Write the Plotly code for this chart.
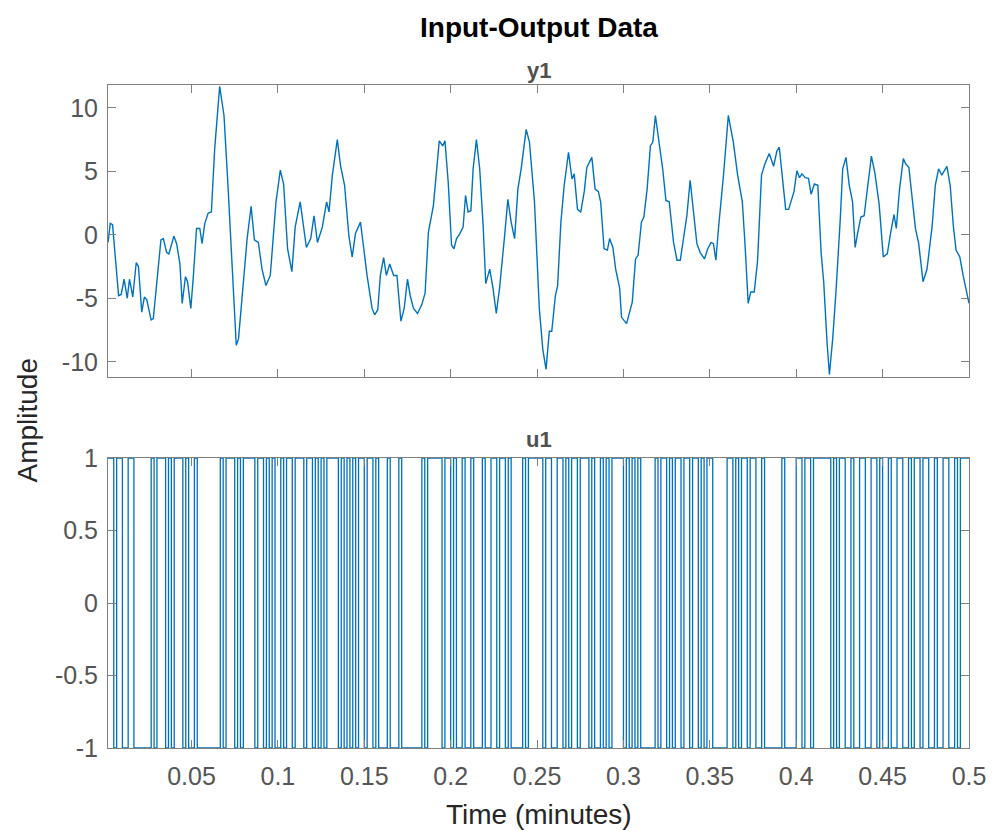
import plotly.graph_objects as go

# ---------------- data ----------------
# output y1 (time in minutes, amplitude)
y1_time = [0.0017, 0.0030, 0.0043, 0.0055, 0.0078, 0.0093, 0.0110, 0.0128, 0.0141, 0.0151,
           0.0160, 0.0180, 0.0193, 0.0212, 0.0227, 0.0241, 0.0266, 0.0279, 0.0298, 0.0323,
           0.0337, 0.0356, 0.0369, 0.0398, 0.0414, 0.0433, 0.0446, 0.0465, 0.0477, 0.0496,
           0.0511, 0.0529, 0.0548, 0.0561, 0.0577, 0.0596, 0.0615, 0.0634, 0.0663, 0.0688,
           0.0711, 0.0734, 0.0759, 0.0772, 0.0797, 0.0822, 0.0845, 0.0864, 0.0887, 0.0908,
           0.0931, 0.0956, 0.0989, 0.1014, 0.1033, 0.1056, 0.1081, 0.1100, 0.1129, 0.1142,
           0.1165, 0.1190, 0.1209,
           0.1229, 0.1257, 0.1282, 0.1296, 0.1315, 0.1344, 0.1363, 0.1386, 0.1411, 0.1430,
           0.1449, 0.1478, 0.1497, 0.1516, 0.1545, 0.1560, 0.1578, 0.1593, 0.1612, 0.1628,
           0.1647, 0.1670, 0.1689, 0.1712, 0.1731, 0.1750, 0.1766, 0.1785, 0.1808, 0.1833,
           0.1852, 0.1871, 0.1900, 0.1919, 0.1934, 0.1954, 0.1967, 0.1986, 0.2005, 0.2019,
           0.2034, 0.2053, 0.2072, 0.2086, 0.2101, 0.2117, 0.2130, 0.2149, 0.2168, 0.2188,
           0.2203, 0.2226, 0.2245, 0.2264, 0.2283, 0.2312, 0.2331, 0.2350, 0.2370, 0.2389,
           0.2408, 0.2437, 0.2456, 0.2485, 0.2513,
           0.2533, 0.2552, 0.2571, 0.2585, 0.2606, 0.2619, 0.2638, 0.2657, 0.2682, 0.2702,
           0.2715, 0.2734, 0.2753, 0.2773, 0.2788, 0.2817, 0.2836, 0.2855, 0.2868, 0.2888,
           0.2907, 0.2920, 0.2939, 0.2955, 0.2978, 0.2989, 0.3018, 0.3035, 0.3051, 0.3070,
           0.3085, 0.3104, 0.3118, 0.3137, 0.3156, 0.3170, 0.3185, 0.3200, 0.3227, 0.3246,
           0.3265, 0.3290, 0.3310, 0.3329, 0.3348, 0.3367, 0.3386, 0.3405, 0.3425, 0.3444,
           0.3469, 0.3488, 0.3507, 0.3521, 0.3535, 0.3550, 0.3579, 0.3607, 0.3636, 0.3661,
           0.3688, 0.3703, 0.3722, 0.3737, 0.3757,
           0.3776, 0.3799, 0.3819, 0.3844, 0.3869, 0.3888, 0.3902, 0.3921, 0.3939, 0.3956,
           0.3975, 0.3987, 0.4004, 0.4019, 0.4033, 0.4052, 0.4071, 0.4086, 0.4105, 0.4125,
           0.4144, 0.4159, 0.4178, 0.4192, 0.4211, 0.4230, 0.4255, 0.4269, 0.4288, 0.4307,
           0.4326, 0.4341, 0.4355, 0.4374, 0.4393, 0.4413, 0.4435, 0.4455, 0.4480, 0.4504,
           0.4527, 0.4547, 0.4566, 0.4579, 0.4598, 0.4620, 0.4633, 0.4652, 0.4671, 0.4690,
           0.4709, 0.4734, 0.4757, 0.4786, 0.4805, 0.4824, 0.4843, 0.4872, 0.4891, 0.4910,
           0.4925, 0.4947, 0.4966, 0.5000]

y1_values = [-0.6, 0.9, 0.8, -1.1, -4.8, -4.7, -3.5, -5.0, -3.5, -4.2,
             -4.9, -2.2, -2.5, -6.1, -4.9, -5.1, -6.7, -6.6, -4.0, -0.4,
             -0.3, -1.4, -1.5, -0.1, -0.7, -2.3, -5.4, -3.3, -3.7, -5.8,
             -3.2, 0.5, 0.5, -0.7, 0.9, 1.7, 1.8, 6.75, 11.7, 9.4,
             3.9, -2.1, -8.7, -8.2, -4.0, -0.3, 2.25, -0.4, -0.6, -2.7,
             -4.0, -3.2, 2.6, 5.1, 4.0, -1.1, -2.9, 0.6, 2.6, 1.3,
             -1.0, -0.3, 1.5,
             -0.6, 0.6, 2.6, 1.8, 4.7, 7.5, 5.4, 3.9, -0.1, -1.75,
             0.1, 1.0, -1.1, -3.2, -5.8, -6.3, -5.9, -3.2, -1.8, -3.2,
             -2.3, -3.2, -3.2, -6.8, -5.8, -3.5, -4.8, -5.8, -6.2, -5.5,
             -4.6, 0.2, 2.3, 5.2, 7.4, 7.0, 7.4, 4.1, -0.8, -1.1,
             -0.3, 0.1, 0.6, 3.1, 1.8, 1.9, 5.2, 7.5, 5.2, 0.7,
             -3.85, -2.7, -4.2, -6.2, -4.2, -0.1, 2.8, 1.0, -0.3, 3.6,
             5.2, 8.3, 7.3, 2.6, -5.8,
             -9.0, -10.6, -7.6, -7.6, -4.8, -4.0, 1.0, 3.9, 6.5, 4.4,
             4.8, 2.0, 1.8, 3.4, 5.3, 6.1, 3.6, 3.4, 2.6, -1.1,
             -1.2, -0.3, -1.0, -2.7, -4.2, -6.5, -7.0, -6.1, -5.3, -1.9,
             -1.6, 1.0, 1.4, 3.6, 7.0, 7.3, 9.4, 7.9, 5.2, 2.7,
             2.6, -0.6, -2.0, -2.0, -0.3, 1.5, 4.3, 1.8, -0.7, -1.4,
             -1.9, -1.1, -0.6, -0.7, -2.0, 0.5, 4.7, 9.4, 7.3, 4.7,
             2.6, -0.6, -5.4, -4.5, -4.5,
             -2.1, 4.7, 5.6, 6.4, 5.4, 6.6, 6.9, 4.1, 2.0, 2.0,
             3.0, 3.4, 5.05, 4.5, 4.8, 4.5, 4.45, 3.2, 4.0, 3.9,
             -1.4, -3.7, -8.4, -11.0, -8.2, -4.5, 1.25, 5.2, 6.1, 3.9,
             2.6, -1.0, 0.1, 1.4, 1.5, 3.6, 6.2, 4.9, 2.4, -1.75,
             -1.5, 0.2, 1.6, 0.5, 3.6, 6.0, 5.6, 5.3, 2.6, 0.5,
             -0.7, -3.7, -2.7, 0.6, 3.9, 5.2, 4.7, 5.4, 3.9, 0.6,
             -1.2, -1.75, -3.2, -5.4]

# input u1: PRBS, sample time 0.1 s = 1/600 min; samples at which the level changes
sample_time_min = 1.0 / 600.0
n_samples = 300
u1_switch_samples = [3, 4, 6, 8, 10, 16, 17, 18, 21, 22,
                     23, 24, 27, 28, 29, 31, 32, 40, 41, 42,
                     45, 46, 47, 48, 52, 53, 55, 56, 57, 58,
                     59, 61, 62, 63, 65, 66, 69, 70, 72, 73,
                     74, 75, 76, 77, 81, 82, 83, 84, 85, 86,
                     87, 88, 90, 91, 93, 94, 95, 98, 99, 102,
                     103, 110, 111, 112, 117, 118, 120, 121, 122, 124,
                     125, 127, 128, 131, 132, 134, 136, 137, 139, 140,
                     141, 145, 146, 147, 152, 153, 155, 157, 159, 160,
                     161, 162, 164, 165, 168, 169, 170, 172, 173, 174,
                     175, 176, 180, 181, 182, 183, 184, 185, 186, 191,
                     192, 193, 195, 196, 197, 198, 200, 201, 203, 204,
                     206, 207, 208, 209, 211, 216, 218, 219, 220, 221,
                     223, 224, 226, 228, 229, 235, 236, 240, 242, 243,
                     245, 246, 252, 253, 254, 255, 257, 259, 260, 262,
                     264, 266, 268, 269, 270, 272, 273, 275, 277, 279,
                     280, 281, 283, 284, 286, 288, 289, 291, 293, 295,
                     296, 297]
# level held on each segment (first segment starts at sample 1)
u1_levels = [1, -1, 1, -1, 1, -1, 1, -1, 1, -1, 1, -1, 1, -1, 1, -1, 1, -1, 1, -1,
             1, -1, 1, -1, 1, -1, 1, -1, 1, -1, 1, -1, 1, -1, 1, -1, 1, -1, 1, -1,
             1, -1, 1, -1, 1, -1, 1, -1, 1, -1, 1, -1, 1, -1, 1, -1, 1, -1, 1, -1,
             1, -1, 1, -1, 1, -1, 1, -1, 1, -1, 1, -1, 1, -1, 1, -1, 1, -1, 1, -1,
             1, -1, 1, -1, 1, -1, 1, -1, 1, -1, 1, -1, 1, -1, 1, -1, 1, -1, 1, -1,
             1, -1, 1, -1, 1, -1, 1, -1, 1, -1, 1, -1, 1, -1, 1, -1, 1, -1, 1, -1,
             1, -1, 1, -1, 1, -1, 1, -1, 1, -1, 1, -1, 1, -1, 1, -1, 1, -1, 1, -1,
             1, -1, 1, -1, 1, -1, 1, -1, 1, -1, 1, -1, 1, -1, 1, -1, 1, -1, 1, -1,
             1, -1, 1, -1, 1, -1, 1, -1, 1, -1, 1, -1, 1]

x_tick_vals = [0.05, 0.1, 0.15, 0.2, 0.25, 0.3, 0.35, 0.4, 0.45, 0.5]
x_tick_text = ["0.05", "0.1", "0.15", "0.2", "0.25", "0.3", "0.35", "0.4", "0.45", "0.5"]
y1_tick_vals = [-10, -5, 0, 5, 10]
y1_tick_text = ["-10", "-5", "0", "5", "10"]
u1_tick_vals = [-1, -0.5, 0, 0.5, 1]
u1_tick_text = ["-1", "-0.5", "0", "0.5", "1"]

# ---------------- build stairs for u1 ----------------
u1_x = [1 * sample_time_min] + [k * sample_time_min for k in u1_switch_samples] + [n_samples * sample_time_min]
u1_y = list(u1_levels) + [u1_levels[-1]]

LINE = "#0072BD"
AX = "#808080"
TXT = "#555555"
FONT = "Liberation Sans, Arial, Helvetica, sans-serif"
TICK_SIZE = 25

fig = go.Figure()
fig.add_trace(go.Scatter(x=y1_time, y=y1_values, mode="lines",
                         line=dict(color=LINE, width=1.4), xaxis="x", yaxis="y",
                         showlegend=False, hoverinfo="skip"))
fig.add_trace(go.Scatter(x=u1_x, y=u1_y, mode="lines", line_shape="hv",
                         line=dict(color=LINE, width=1.3), xaxis="x2", yaxis="y2",
                         showlegend=False, hoverinfo="skip", cliponaxis=False))

xcommon = dict(range=[sample_time_min, 0.5], tickvals=x_tick_vals, ticktext=x_tick_text,
               ticks="inside", ticklen=8, tickcolor=AX, showline=True, linecolor=AX,
               linewidth=1, mirror="ticks", showgrid=False, zeroline=False,
               tickfont=dict(family=FONT, size=TICK_SIZE, color=TXT))
ycommon = dict(ticks="inside", ticklen=8, tickcolor=AX, showline=True, linecolor=AX,
               linewidth=1, mirror="ticks", showgrid=False, zeroline=False,
               tickfont=dict(family=FONT, size=TICK_SIZE, color=TXT))

# plot area: 866 x 663 px (page has an 8 px body margin)
top_dom = [0.5596, 1.0]
bot_dom = [0.0, 0.4374]

fig.update_layout(
    width=990, height=822,
    margin=dict(l=100, r=24, t=77, b=82),
    paper_bgcolor="white", plot_bgcolor="white",
    xaxis=dict(**xcommon, domain=[0, 1], anchor="y", showticklabels=False),
    yaxis=dict(**ycommon, domain=top_dom, anchor="x", range=[-11.2, 11.8],
               tickvals=y1_tick_vals, ticktext=y1_tick_text, ticklabelstandoff=4),
    xaxis2=dict(**xcommon, domain=[0, 1], anchor="y2", matches="x", ticklabelstandoff=6),
    yaxis2=dict(**ycommon, domain=bot_dom, anchor="x2", range=[-1, 1],
                tickvals=u1_tick_vals, ticktext=u1_tick_text, ticklabelstandoff=4),
)

ann = [
    dict(text="<b>Input-Output Data</b>", x=0.5, y=1.086, size=28, color="#000000"),
    dict(text="<b>y1</b>", x=0.5, y=1.0226, size=22, color="#505050"),
    dict(text="<b>u1</b>", x=0.5, y=0.4646, size=22, color="#505050"),
    dict(text="Time (minutes)", x=0.5, y=-0.101, size=28, color="#262626"),
]
for a in ann:
    fig.add_annotation(text=a["text"], x=a["x"], y=a["y"], xref="paper", yref="paper",
                       xanchor="center", yanchor="middle", showarrow=False,
                       font=dict(family=FONT, size=a["size"], color=a["color"]))
fig.add_annotation(text="Amplitude", x=-0.0935, y=0.4947, xref="paper", yref="paper",
                   xanchor="center", yanchor="middle", showarrow=False, textangle=-90,
                   font=dict(family=FONT, size=28, color="#262626"))

fig.write_html("out.html")
